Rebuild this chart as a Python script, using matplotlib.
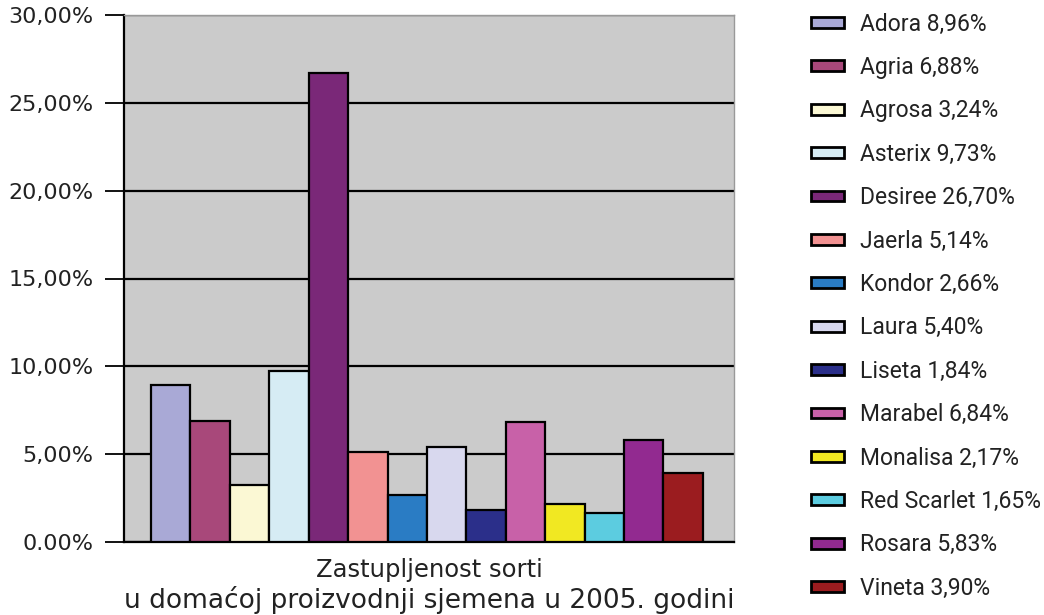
import matplotlib
matplotlib.use("Agg")
import matplotlib.pyplot as plt
from matplotlib.patches import Patch
import numpy as np

categories = ["Adora", "Agria", "Agrosa", "Asterix", "Desiree", "Jaerla", "Kondor",
              "Laura", "Liseta", "Marabel", "Monalisa", "Red Scarlet", "Rosara", "Vineta"]
values = [8.96, 6.88, 3.24, 9.73, 26.70, 5.14, 2.66, 5.40, 1.84, 6.84, 2.17, 1.65, 5.83, 3.90]
legend_labels = ["Adora 8,96%", "Agria 6,88%", "Agrosa 3,24%", "Asterix 9,73%", "Desiree 26,70%",
                 "Jaerla 5,14%", "Kondor 2,66%", "Laura 5,40%", "Liseta 1,84%", "Marabel 6,84%",
                 "Monalisa 2,17%", "Red Scarlet 1,65%", "Rosara 5,83%", "Vineta 3,90%"]
colors = ["#a9a9d6", "#a8487a", "#fbf8d4", "#d6ecf4", "#7a2878", "#f29292", "#2a7cc4",
          "#d8d8ee", "#2b2f8a", "#c861a8", "#f1e822", "#5ccce0", "#922a90", "#9b1c1f"]
yticks = [0, 5, 10, 15, 20, 25, 30]
ytick_labels = ["0.00%", "5,00%", "10,00%", "15,00%", "20,00%", "25,00%", "30,00%"]
xlabel_line1 = "Zastupljenost sorti"
xlabel_line2 = "u domaćoj proizvodnji sjemena u 2005. godini"

W, H = 1044, 615
fig = plt.figure(figsize=(W / 100, H / 100), dpi=100)
ax = fig.add_axes([124 / W, 1 - 542 / H, (734 - 124) / W, (542 - 15) / H])
ax.set_facecolor("#cbcbcb")

x = np.arange(len(categories))
ax.bar(x, values, width=1.0, color=colors, edgecolor="black", linewidth=1.6, zorder=3)

ax.set_xlim(-1.185, 14.29)
ax.set_ylim(0, 30)
ax.set_yticks(yticks)
ax.set_yticklabels(ytick_labels, fontsize=16, color="#222222")
ax.yaxis.grid(True, color="black", linewidth=1.6, zorder=1)
ax.set_axisbelow(True)
ax.tick_params(axis="y", direction="out", length=14, width=1.3, pad=8)
ax.set_xticks([])

for s in ["left", "bottom"]:
    ax.spines[s].set_color("black")
    ax.spines[s].set_linewidth(1.6)
for s in ["top", "right"]:
    ax.spines[s].set_color("#999999")
    ax.spines[s].set_linewidth(1.0)

xc = (124 + 734) / 2 / W
fig.text(xc, 1 - 570 / H, xlabel_line1, ha="center", va="center", fontsize=17.5, color="#222222")
fig.text(xc, 1 - 600 / H, xlabel_line2, ha="center", va="center", fontsize=19, color="#222222")

handles = [Patch(facecolor=c, edgecolor="black", linewidth=2.0) for c in colors]
leg = fig.legend(handles, legend_labels, loc="upper left", bbox_to_anchor=(790 / W, 1 + 8 / H),
                 frameon=False, prop={"family": "Roboto", "size": 16.5},
                 handlelength=1.44, handleheight=0.35, handletextpad=0.7,
                 labelspacing=0.89, labelcolor="#222222")

fig.savefig("out.png", dpi=100)
